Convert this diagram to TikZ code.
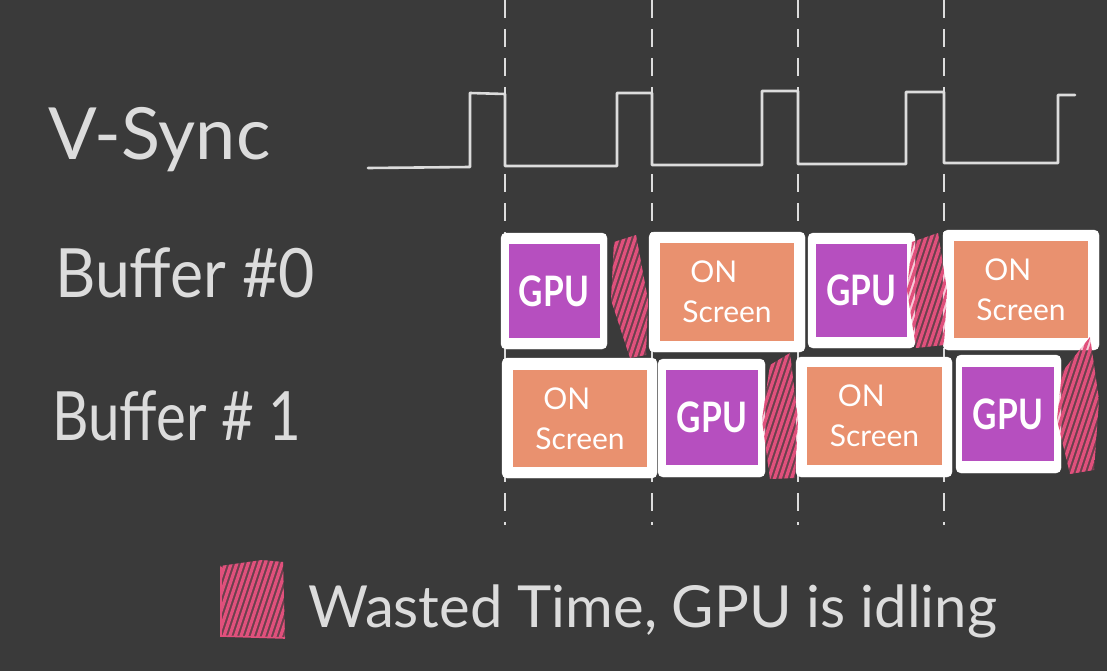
\documentclass[tikz,border=0pt]{standalone}
\usepackage{fontspec}
\setmainfont{Lato}
\usetikzlibrary{calc}
\definecolor{bg}{HTML}{3A3A3A}
\definecolor{chalk}{HTML}{DCDCDC}
\definecolor{gpupurple}{HTML}{B64FBF}
\definecolor{scrorange}{HTML}{E9916F}
\definecolor{wastepink}{HTML}{E0507C}
\tikzset{
  chalkline/.style={draw=chalk, line width=2.6pt, line join=round, line cap=round},
  syncdash/.style={draw=chalk, line width=2.4pt, dash pattern=on 18pt off 11pt},
  label/.style={text=chalk, inner sep=0pt, font=\fontsize{72}{80}\selectfont},
  outerbox/.style={fill=white, draw=white, rounded corners=5pt, inner sep=0pt},
  gpubox/.style={fill=gpupurple, inner sep=0pt, text=white, font=\fontsize{42}{46}\selectfont\bfseries},
  scrbox/.style={fill=scrorange, inner sep=0pt, text=white, align=left, font=\fontsize{30}{40}\selectfont},
  hatchline/.style={draw=wastepink, line width=3.2pt, line cap=round},
}
\newcommand{\gpulabel}{\scalebox{0.8}[1]{GPU}}
\newcommand{\scrlabel}{\hspace*{8pt}ON\\Screen}
\newcommand{\hatchfill}[4]{% xmin, ymin, xmax, ymax
  \fill[wastepink, opacity=0.3] (#1,#2) rectangle (#3,#4);
  \foreach \t in {0,17,...,420} {
    \draw[hatchline] (#1,{#2+\t}) -- (#3,{#2+\t-3*(#3-#1)});
  }
}
\begin{document}
\begin{tikzpicture}[x=1pt,y=-1pt]
\fill[bg] (0,0) rectangle (1107,671);
\useasboundingbox (0,0) rectangle (1107,671);

% labels
\node[label, anchor=base west] (vsync) at (48,160) {V-Sync};
\node[label, anchor=base west, font=\fontsize{68}{72}\selectfont] (buf0) at (55,297) {\scalebox{0.92}[1]{Buffer \#0}};
\node[label, anchor=base west, font=\fontsize{68}{72}\selectfont] (buf1) at (52,440) {\scalebox{0.83}[1]{Buffer \# 1}};

% dashed v-sync lines
\foreach \n/\x in {a/505,b/652,c/798,d/944} {
  \coordinate (top\n) at (\x,0);
  \coordinate (bot\n) at (\x,525);
  \draw[syncdash] (top\n) -- (bot\n);
}

% v-sync square wave
\draw[chalkline] (368,168) -- (470,167) -- (470,93) -- (505,94) -- (505,166)
  -- (617,166) -- (617,93) -- (652,93) -- (652,165)
  -- (762,165) -- (762,91) -- (798,91) -- (798,164)
  -- (906,164) -- (906,92) -- (944,92) -- (944,163)
  -- (1058,163) -- (1058,95) -- (1075,95);

% buffer 0 row
\node[outerbox, minimum width=106pt, minimum height=116pt] (o1) at (554,291) {};
\node[gpubox, minimum width=91pt, minimum height=94pt] (g1) at (554,291) {\gpulabel};
\node[outerbox, minimum width=156pt, minimum height=120pt] (o2) at (727,292) {};
\node[scrbox, minimum width=134pt, minimum height=98pt] (s2) at (727,292) {\scrlabel};
\node[outerbox, minimum width=107pt, minimum height=115pt] (o3) at (861.5,290.5) {};
\node[gpubox, minimum width=91pt, minimum height=93pt] (g3) at (861.5,290.5) {\gpulabel};
\node[outerbox, minimum width=156pt, minimum height=120pt] (o4) at (1021,290) {};
\node[scrbox, minimum width=134pt, minimum height=97pt] (s4) at (1021,289.5) {\scrlabel};

% buffer 1 row
\node[outerbox, minimum width=155pt, minimum height=120pt] (o5) at (579.5,418) {};
\node[scrbox, minimum width=134pt, minimum height=97pt] (s5) at (580,418.5) {\scrlabel};
\node[outerbox, minimum width=107pt, minimum height=118pt] (o6) at (711.5,418) {};
\node[gpubox, minimum width=92pt, minimum height=95pt] (g6) at (712,417.5) {\gpulabel};
\node[outerbox, minimum width=156pt, minimum height=120pt] (o7) at (874,417) {};
\node[scrbox, minimum width=135pt, minimum height=98pt] (s7) at (874.5,416) {\scrlabel};
\node[outerbox, minimum width=105pt, minimum height=118pt] (o8) at (1008.5,414) {};
\node[gpubox, minimum width=92pt, minimum height=94pt] (g8) at (1008,414) {\gpulabel};

% wasted time hatches
\begin{scope}
  \clip (614,242) -- (636,235) -- (648,300) -- (646,355) -- (630,358) -- (611,300) -- cycle;
  \hatchfill{608}{235}{650}{360}
\end{scope}
\begin{scope}
  \clip (912,242) -- (938,233) -- (947,290) -- (944,345) -- (916,348) -- (907,290) -- cycle;
  \hatchfill{905}{232}{948}{350}
\end{scope}
\begin{scope}
  \clip (770,365) -- (790,353) -- (798,420) -- (795,478) -- (770,479) -- (762,420) -- cycle;
  \hatchfill{760}{352}{800}{480}
\end{scope}
\begin{scope}
  \clip (1062,372) -- (1090,337) -- (1099,400) -- (1094,470) -- (1070,474) -- (1057,420) -- cycle;
  \hatchfill{1055}{336}{1100}{476}
\end{scope}

% legend
\begin{scope}
  \clip (220,566) -- (262,560) -- (283,562) -- (285,638) -- (221,636) -- cycle;
  \hatchfill{216}{558}{288}{642}
\end{scope}
\draw[wastepink, line width=1.6pt] (221,567) -- (221,636) -- (285,638);
\node[label, anchor=base west, font=\fontsize{58}{64}\selectfont] (legend) at (308,627) {Wasted Time, GPU is idling};
\end{tikzpicture}
\end{document}
